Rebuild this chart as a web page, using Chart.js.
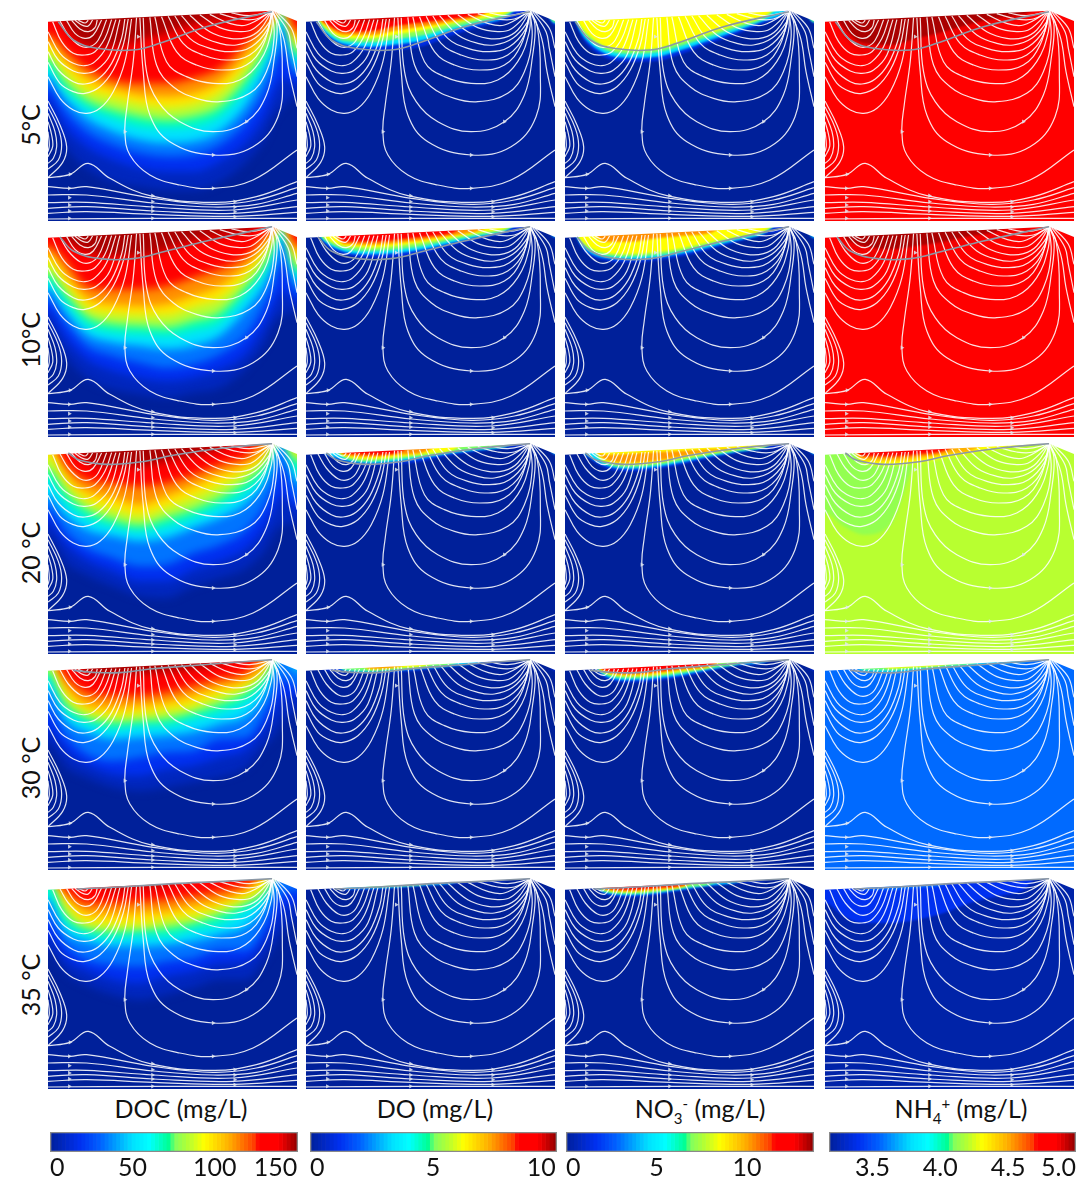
<!DOCTYPE html>
<html lang="en">
<head>
  <meta charset="UTF-8" />
  <title>Hyporheic zone concentrations</title>
  <script src="https://cdn.jsdelivr.net/npm/chart.js"></script>
  <style>
    body { margin: 0; background: #fff; font-family: Lato, "Noto Sans", sans-serif; color: #111; }
    #page { position: relative; width: 1091px; height: 1177px; overflow: hidden; }
    canvas { position: absolute; display: block; }
    .title { position: absolute; top: 1094px; font-size: 25px; line-height: 28px; transform: translateX(-50%); white-space: nowrap; }
    .title sub, .title sup { font-size: 15px; line-height: 0; }
    .row { position: absolute; left: 30px; font-size: 25px; line-height: 28px; transform: translate(-50%, -50%) rotate(-90deg); white-space: nowrap; }
  </style>
</head>
<body>
  <div id="page">
    <div class="row" style="top:125px">5°C</div>
    <div class="row" style="top:340px">10°C</div>
    <div class="row" style="top:553px">20 °C</div>
    <div class="row" style="top:768px">30 °C</div>
    <div class="row" style="top:985px">35 °C</div>
    <div class="title" style="left:181px">DOC (mg/L)</div>
    <div class="title" style="left:435px">DO (mg/L)</div>
    <div class="title" style="left:700px">NO<sub>3</sub><sup>-</sup> (mg/L)</div>
    <div class="title" style="left:961px">NH<sub>4</sub><sup>+</sup> (mg/L)</div>
  </div>

  <script>
    // all panel values are in the same domain units, x 24-772, y 17 (crest) - 648 (base)
    const crossX = [24, 80, 140, 220, 300, 380, 460, 540, 620, 680, 700, 730, 772];

    // colour bars
    const docTicks = [0, 50, 100, 150];
    const doTicks = [0, 5, 10];
    const no3Ticks = [0, 5, 10];
    const nh4Ticks = [3.5, 4.0, 4.5, 5.0];
    const barRanges = [[0, 150.5], [0, 10.05], [0, 13.7], [3.18, 5.0]];

    // levels as a fraction of the colour bar
    const docLevels = [.05, .12, .22, .33, .45, .55, .65, .75, .85, .98];
    const thinLevels = [.1, .33, .5, .62, .75, .85, .95];
    const no20Levels = [.1, .33, .5, .62, .74, .62];

    // contour depth per level, at crossX. 0 = above the ground surface
    const doc05 = [
      [330, 430, 490, 530, 545, 555, 555, 530, 470, 390, 340, 300, 270],
      [285, 370, 425, 465, 490, 500, 500, 470, 410, 320, 270, 220, 235],
      [250, 325, 380, 420, 445, 455, 450, 420, 350, 250, 200, 130, 210],
      [215, 285, 340, 380, 405, 415, 410, 380, 300, 190, 140, 60, 190],
      [190, 260, 305, 340, 365, 370, 365, 335, 250, 150, 100, 0, 160],
      [165, 235, 285, 315, 335, 345, 335, 305, 220, 120, 75, 0, 145],
      [140, 205, 255, 280, 300, 310, 300, 265, 185, 95, 55, 0, 120],
      [115, 170, 220, 250, 270, 275, 265, 230, 150, 70, 40, 0, 100],
      [90, 140, 190, 225, 235, 235, 220, 190, 115, 50, 28, 0, 75],
      [0, 70, 120, 125, 105, 85, 60, 42, 28]
    ];
    const doc10 = [
      [320, 410, 470, 505, 520, 530, 515, 500, 440, 360, 310, 280, 270],
      [275, 355, 415, 450, 470, 480, 470, 445, 395, 300, 260, 210, 240],
      [240, 310, 375, 405, 425, 440, 430, 400, 340, 240, 195, 120, 215],
      [205, 275, 340, 365, 375, 385, 375, 345, 265, 180, 125, 50, 185],
      [180, 245, 310, 335, 340, 345, 330, 305, 220, 140, 90, 0, 160],
      [160, 220, 285, 310, 315, 320, 300, 275, 195, 115, 65, 0, 145],
      [130, 195, 260, 280, 285, 285, 260, 235, 165, 90, 50, 0, 120],
      [100, 165, 230, 250, 255, 250, 225, 195, 135, 65, 35, 0, 95],
      [75, 125, 195, 205, 205, 195, 170, 145, 105, 40, 25, 0, 70],
      [0, 60, 90, 105, 105, 85, 60, 45, 30]
    ];
    const doc20 = [
      [295, 375, 410, 445, 475, 480, 445, 420, 390, 330, 290, 260, 255],
      [250, 320, 365, 400, 430, 430, 395, 370, 330, 260, 220, 170, 215],
      [215, 285, 330, 360, 385, 380, 345, 320, 275, 195, 150, 80, 185],
      [175, 235, 275, 295, 310, 300, 270, 240, 195, 120, 60, 0, 135],
      [125, 195, 240, 265, 280, 265, 240, 205, 160, 95, 40, 0, 105],
      [95, 165, 215, 245, 262, 240, 215, 180, 130, 70, 28, 0, 70],
      [60, 135, 190, 215, 235, 210, 180, 145, 100, 50, 0, 0, 50],
      [0, 110, 160, 180, 200, 175, 145, 110, 80, 35],
      [0, 80, 125, 135, 145, 135, 110, 80, 55],
      [0, 0, 70, 85, 85, 70, 50, 35]
    ];
    const doc30 = [
      [270, 340, 370, 400, 410, 400, 385, 370, 340, 270, 250, 200, 170],
      [225, 290, 330, 360, 365, 345, 335, 310, 285, 210, 180, 130, 125],
      [170, 250, 300, 320, 310, 295, 290, 255, 250, 170, 130, 70, 100],
      [105, 200, 235, 255, 250, 245, 235, 210, 185, 110, 45, 0, 50],
      [70, 170, 205, 225, 215, 215, 195, 175, 140, 80, 30],
      [55, 150, 190, 205, 200, 195, 175, 150, 115, 55],
      [0, 125, 170, 185, 180, 170, 155, 125, 95, 40],
      [0, 100, 150, 160, 155, 145, 125, 100, 75, 30],
      [0, 70, 115, 125, 125, 115, 95, 75, 55],
      [0, 0, 60, 65, 60, 55, 45, 30]
    ];
    const doc35 = [
      [231, 300, 335, 365, 380, 365, 345, 320, 320, 250, 220, 170, 140],
      [190, 260, 290, 320, 330, 310, 295, 270, 265, 190, 160, 110, 90],
      [140, 220, 260, 275, 280, 265, 255, 230, 230, 150, 100, 60, 50],
      [80, 180, 205, 220, 220, 215, 205, 185, 160, 90, 30],
      [60, 150, 180, 195, 185, 190, 170, 155, 110, 60],
      [0, 125, 165, 175, 170, 165, 150, 125, 90, 45],
      [0, 100, 150, 155, 155, 140, 130, 105, 75, 35],
      [0, 70, 120, 125, 120, 115, 100, 85, 50],
      [0, 55, 90, 90, 85, 80, 70, 55, 36],
      [0, 0, 0, 50, 40, 35]
    ];

    const do05 = [
      [0, 90, 128, 138, 135, 122, 92, 68, 45, 25, 0, 0, 60],
      [0, 80, 118, 125, 118, 105, 78, 58, 38, 0, 0, 0, 55],
      [0, 72, 108, 112, 102, 90, 68, 50, 32, 0, 0, 0, 52],
      [0, 65, 98, 100, 88, 75, 56, 42, 27],
      [0, 58, 90, 90, 76, 64, 50, 36],
      [0, 52, 80, 78, 62, 52, 42, 30],
      [0, 0, 58, 52, 45, 0]
    ];
    const do10 = [
      [0, 70, 100, 110, 108, 95, 75, 55, 38, 22, 0, 0, 50],
      [0, 62, 92, 100, 96, 84, 66, 48, 32, 0, 0, 0, 48],
      [0, 56, 84, 90, 85, 74, 58, 42, 28],
      [0, 50, 76, 80, 74, 64, 50, 36, 24],
      [0, 0, 70, 72, 66, 56, 44, 31],
      [0, 0, 62, 62, 56, 47, 37]
    ];
    const do20 = [
      [0, 48, 72, 82, 78, 68, 52, 40, 30, 22, 0, 0, 50],
      [0, 45, 66, 76, 70, 60, 46, 36, 27, 0, 0, 0, 48],
      [0, 0, 60, 70, 63, 54, 42, 32, 24],
      [0, 0, 55, 64, 57, 48, 38],
      [0, 0, 50, 56, 50, 42],
      [0, 0, 46, 50, 44]
    ];
    const do30 = [
      [0, 48, 54, 58, 54, 47, 38, 30, 23, 0, 0, 0, 50],
      [0, 0, 50, 54, 49, 43, 35, 27],
      [0, 0, 47, 50, 45, 39, 32],
      [0, 0, 0, 47, 42, 36],
      [0, 0, 0, 44, 39]
    ];
    const do35 = [
      [0, 0, 50, 50, 45, 39, 33, 28, 24, 0, 0, 0, 50],
      [0, 0, 47, 46, 42, 36, 31],
      [0, 0, 0, 43, 40, 34]
    ];

    const no05 = [
      [0, 105, 155, 170, 168, 145, 115, 87, 55, 28, 0, 0, 55],
      [0, 95, 143, 158, 155, 133, 105, 78, 48, 24, 0, 0, 52],
      [0, 85, 132, 146, 142, 120, 94, 68, 42, 0, 0, 0, 50],
      [0, 75, 122, 135, 130, 108, 84, 60, 36]
    ];
    const no10 = [
      [0, 88, 118, 124, 118, 105, 85, 63, 42, 24, 0, 0, 52],
      [0, 80, 110, 115, 110, 97, 78, 58, 38, 0, 0, 0, 50],
      [0, 73, 102, 107, 102, 89, 71, 52, 34],
      [0, 66, 95, 100, 94, 81, 64, 47, 30],
      [0, 0, 62, 62, 52, 44, 36]
    ];
    const no20 = [
      [0, 48, 88, 100, 93, 78, 60, 45, 32, 22, 0, 0, 50],
      [0, 45, 80, 92, 86, 72, 55, 41, 30, 0, 0, 0, 48],
      [0, 0, 74, 86, 80, 66, 50, 38, 27],
      [0, 0, 68, 80, 74, 60, 46, 34, 24],
      [0, 0, 62, 74, 68, 54, 41, 30],
      [0, 0, 50, 47, 42, 38, 34, 30, 25]
    ];
    const no30 = [
      [0, 0, 70, 85, 80, 68, 50, 35, 27, 0, 0, 0, 50],
      [0, 0, 63, 78, 73, 62, 46, 32, 25],
      [0, 0, 58, 72, 67, 56, 42, 30],
      [0, 0, 54, 67, 62, 51, 39],
      [0, 0, 50, 62, 57, 46, 36],
      [0, 0, 47, 57, 52, 42, 33]
    ];
    const no35 = [
      [0, 0, 62, 72, 65, 52, 40, 30, 24],
      [0, 0, 58, 66, 60, 48, 37, 28],
      [0, 0, 54, 62, 56, 44, 34],
      [0, 0, 50, 58, 52, 41],
      [0, 0, 47, 54, 48, 38],
      [0, 0, 45, 50, 44, 36]
    ];

    // NH4 has a non blue background level in most rows
    const nhBase = [.865, .865, .56, .21, .02];
    const nhLevels = [[.93, .98], [.93, .98], [.52, .62, .72, .85, .95], [.33, .5, .62], [.12, .22]];
    const nh05 = [
      [0, 100, 150, 150, 130, 105, 85, 60, 40],
      [0, 70, 115, 120, 100, 80, 58, 40, 28]
    ];
    const nh10 = [
      [0, 80, 110, 115, 100, 85, 65, 48, 32],
      [0, 50, 75, 85, 75, 62, 45, 32]
    ];
    const nh20 = [
      [225, 265, 290, 260, 60],
      [0, 0, 75, 82, 75, 60, 45, 32, 22],
      [0, 0, 65, 68, 62, 50, 40],
      [0, 0, 55, 56, 50, 40],
      [0, 0, 48]
    ];
    const nh30 = [
      [0, 0, 52, 54, 48, 41, 35, 28, 23],
      [0, 0, 47, 48, 42, 36, 31],
      [0, 0, 0, 44, 40, 34]
    ];
    const nh35 = [
      [90, 130, 150, 150, 140, 120, 90, 70, 50],
      [0, 0, 50, 50, 44, 36]
    ];

    const rowFields = [
      [doc05, do05, no05, nh05],
      [doc10, do10, no10, nh10],
      [doc20, do20, no20, nh20],
      [doc30, do30, no30, nh30],
      [doc35, do35, no35, nh35]
    ];

    // ground surface and water table (grey line, one per temperature)
    const surface = [[-30, 53], [24, 50], [697, 17], [772, 48], [830, 72]];
    const waterTable = [
      [[55, 50], [100, 105], [170, 130], [280, 135], [360, 115], [500, 65], [697, 20]],
      [[60, 48], [100, 90], [180, 113], [280, 113], [380, 90], [500, 60], [697, 17]],
      [[85, 45], [120, 67], [200, 79], [300, 72], [400, 52], [550, 30], [697, 17]],
      [[100, 49], [160, 55], [240, 56], [330, 45], [480, 33], [697, 17]],
      [[110, 48], [240, 42], [400, 32], [550, 25], [697, 17]]
    ];

    // streamlines, same flow field in all panels
    const leftCells = [
      [[24, 215], [60, 280], [100, 315], [140, 325], [180, 310], [220, 260], [255, 170], [275, 42]],
      [[24, 172], [60, 235], [100, 260], [135, 265], [180, 245], [220, 195], [250, 120], [265, 42]],
      [[24, 140], [55, 195], [100, 230], [135, 237], [175, 222], [215, 175], [245, 100], [255, 42]],
      [[24, 110], [55, 165], [100, 198], [135, 205], [170, 195], [210, 150], [240, 44]],
      [[24, 80], [60, 145], [100, 175], [135, 182], [165, 170], [200, 125], [228, 44]],
      [[38, 50], [65, 110], [100, 145], [135, 150], [165, 140], [195, 100], [215, 44]],
      [[60, 48], [85, 90], [120, 122], [150, 125], [175, 105], [200, 44]],
      [[80, 47], [105, 85], [135, 100], [160, 90], [185, 45]],
      [[95, 46], [120, 72], [145, 80], [165, 68], [172, 45]],
      [[105, 46], [130, 62], [145, 63], [158, 45]],
      [[115, 46], [135, 54], [145, 46]]
    ];
    const rightCells = [
      [[290, 38], [280, 170], [262, 300], [255, 380], [270, 450], [330, 510], [420, 540], [520, 550], [640, 525], [772, 435]],
      [[300, 38], [310, 200], [330, 330], [390, 410], [520, 450], [640, 425], [715, 335], [728, 200], [718, 60], [697, 18]],
      [[310, 38], [320, 200], [355, 290], [420, 350], [520, 380], [620, 350], [680, 270], [705, 150], [712, 60], [697, 18]],
      [[330, 37], [350, 180], [400, 245], [470, 280], [540, 290], [630, 265], [680, 200], [703, 100], [697, 18]],
      [[345, 36], [380, 170], [440, 215], [520, 235], [600, 225], [660, 170], [695, 80], [697, 18]],
      [[365, 35], [410, 140], [470, 180], [545, 195], [620, 180], [670, 120], [697, 18]],
      [[385, 34], [430, 115], [490, 150], [560, 165], [630, 150], [680, 90], [697, 18]],
      [[405, 33], [450, 100], [510, 130], [575, 140], [635, 125], [685, 70], [697, 18]],
      [[425, 32], [480, 90], [540, 115], [590, 120], [645, 100], [690, 50], [697, 18]],
      [[450, 31], [510, 80], [570, 100], [620, 98], [660, 75], [697, 18]],
      [[480, 29], [540, 68], [600, 80], [640, 72], [697, 18]],
      [[510, 28], [570, 55], [620, 60], [697, 18]],
      [[540, 26], [600, 42], [650, 42], [697, 18]],
      [[575, 24], [630, 32], [697, 18]]
    ];
    const rightEdge = [
      [[700, 18], [732, 100], [748, 200], [772, 305]],
      [[705, 20], [745, 80], [755, 130], [772, 215]],
      [[712, 22], [755, 70], [772, 130]]
    ];
    const leftLobes = [
      [[24, 288], [60, 360], [80, 425], [68, 472], [24, 518]],
      [[24, 305], [55, 370], [65, 420], [55, 465], [24, 492]],
      [[24, 325], [45, 380], [50, 425], [40, 460], [24, 475]],
      [[24, 350], [35, 390], [38, 425], [24, 455]],
      [[24, 380], [28, 420], [24, 440]]
    ];
    const bottomLines = [
      [[24, 518], [90, 508], [145, 475], [210, 520], [330, 572], [520, 592], [650, 575], [772, 530]],
      [[24, 545], [90, 550], [140, 545], [340, 580], [520, 598], [650, 585], [772, 548]],
      [[24, 570], [140, 570], [340, 594], [520, 606], [650, 598], [772, 565]],
      [[24, 593], [140, 592], [340, 606], [580, 615], [772, 585]],
      [[24, 610], [140, 605], [340, 618], [580, 625], [772, 605]],
      [[24, 625], [140, 620], [340, 628], [580, 634], [772, 622]],
      [[24, 642], [340, 640], [772, 640]]
    ];
    const streamLines = [...leftCells, ...rightCells, ...rightEdge, ...leftLobes, ...bottomLines];

    const arrowPoints = [[90, 508], [88, 550], [88, 578], [88, 600], [88, 618], [88, 640],
      [338, 572], [338, 590], [338, 606], [338, 618], [338, 640],
      [585, 590], [585, 606], [585, 620], [585, 635],
      [255, 380], [520, 450], [520, 550], [620, 350], [295, 95]];

    // layout
    const colLeft = [48, 306, 565, 825];
    const rowTop = [10, 226, 443, 659, 878];
    const panelW = 249, panelH = 211;
    const barLeft = [50, 310, 566, 829], barW = [248, 247, 248, 247];

    // colour bar map, position and colour
    const mapPos = [0, .12, .2, .33, .4, .48, .5, .56, .62, .72, .82, .84, .92, 1];
    const mapCol = [[0, 32, 154], [0, 48, 240], [0, 96, 255], [0, 224, 255], [0, 255, 255], [0, 255, 144], [128, 255, 96],
      [184, 255, 48], [255, 255, 0], [255, 176, 0], [255, 64, 0], [255, 0, 0], [255, 0, 0], [140, 0, 0]];

    function shade(t) {
      let i = 0;
      while (i < mapPos.length - 2 && t > mapPos[i + 1]) i++;
      const f = Math.min(1, Math.max(0, (t - mapPos[i]) / (mapPos[i + 1] - mapPos[i])));
      const c = mapCol[i].map((v, k) => Math.round(v + (mapCol[i + 1][k] - v) * f));
      return `rgb(${c[0]},${c[1]},${c[2]})`;
    }

    const toXY = pts => pts.map(p => ({ x: p[0], y: p[1] }));
    const page = document.getElementById('page');

    function addCanvas(left, top, w, h) {
      const c = document.createElement('canvas');
      c.width = w; c.height = h;
      c.style.left = left + 'px'; c.style.top = top + 'px';
      c.style.width = w + 'px'; c.style.height = h + 'px';
      page.appendChild(c);
      return c;
    }

    // one filled band: contour at crossX, painted up to the top of the panel
    function bandDataset(depths, t) {
      const ys = crossX.map((x, i) => depths[i] ?? 0);
      const pts = [{ x: -30, y: ys[0] }, ...crossX.map((x, i) => ({ x, y: ys[i] })), { x: 830, y: ys[ys.length - 1] }];
      return { data: pts, fill: { target: { value: -60 } }, backgroundColor: shade(t), borderWidth: 0, pointRadius: 0,
        cubicInterpolationMode: 'monotone' };
    }

    function drawPanel(r, c) {
      const field = rowFields[r][c];
      const levels = c === 0 ? docLevels : c === 3 ? nhLevels[r] : (c === 2 && r === 2) ? no20Levels : thinLevels;
      const base = c === 3 ? nhBase[r] : 0;
      const datasets = [];
      datasets.push({ data: toXY(waterTable[r]), borderColor: '#8b98a6', borderWidth: 1.6, tension: .4, pointRadius: 0, fill: false });
      datasets.push({ data: toXY(arrowPoints), showLine: false, pointStyle: 'triangle', pointRotation: 90, pointRadius: 2.5,
        pointBorderWidth: 0, pointBackgroundColor: 'rgba(225,230,240,.85)' });
      streamLines.forEach(s => datasets.push({ data: toXY(s), borderColor: 'rgba(255,255,255,.88)', borderWidth: 1.2, tension: .4, pointRadius: 0, fill: false }));
      datasets.push({ data: toXY(surface), fill: { target: { value: -60 } }, backgroundColor: '#fff', borderWidth: 0, pointRadius: 0 });
      const firstBand = datasets.length;
      // shallow (hot) contours first, the chart paints the list from the end
      for (let i = field.length - 1; i >= 0; i--) datasets.push(bandDataset(field[i], levels[i]));
      datasets.push(bandDataset(crossX.map(() => 720), base));

      const blurPx = c === 0 ? 4 : r === 2 && c === 3 ? 1.5 : 1;
      new Chart(addCanvas(colLeft[c], rowTop[r], panelW, panelH), {
        type: 'line',
        data: { datasets },
        options: {
          responsive: false,
          animation: false,
          events: [],
          layout: { padding: 0, autoPadding: false },
          plugins: { legend: { display: false }, tooltip: { enabled: false } },
          scales: {
            x: { type: 'linear', display: false, min: 24, max: 772 },
            y: { type: 'linear', display: false, min: 15, max: 648, reverse: true }
          }
        },
        plugins: [{
          id: 'softBands',
          beforeDatasetsDraw(chart) { chart.ctx.filter = `blur(${blurPx}px)`; },
          afterDatasetDraw(chart, args) { if (args.index === firstBand) chart.ctx.filter = 'none'; }
        }]
      });
    }

    function drawBar(c) {
      const [lo, hi] = barRanges[c];
      const ticks = [docTicks, doTicks, no3Ticks, nh4Ticks][c];
      // empty end ticks keep the inner aligned labels where the figure has them
      const tickVals = [...ticks];
      if (ticks[0] > lo) tickVals.unshift(lo);
      if (c === 2) tickVals.push(hi);
      const steps = 64;
      const datasets = [{ data: [[lo, hi]], backgroundColor: 'rgba(0,0,0,0)', borderColor: '#8a8a8a', borderWidth: 1, borderSkipped: false }];
      for (let i = 0; i < steps; i++) {
        const a = lo + (hi - lo) * i / steps, b = lo + (hi - lo) * (i + 1) / steps;
        datasets.push({ data: [[a, b]], backgroundColor: shade((i + .5) / steps), borderWidth: 0 });
      }
      new Chart(addCanvas(barLeft[c], 1132, barW[c], 45), {
        type: 'bar',
        data: { labels: [''], datasets },
        options: {
          indexAxis: 'y',
          responsive: false,
          animation: false,
          events: [],
          layout: { padding: 0, autoPadding: false },
          plugins: { legend: { display: false }, tooltip: { enabled: false } },
          datasets: { bar: { grouped: false, barPercentage: 1, categoryPercentage: 1 } },
          scales: {
            y: { display: false },
            x: {
              type: 'linear', min: lo, max: hi,
              afterBuildTicks(scale) { scale.ticks = tickVals.map(value => ({ value })); },
              afterFit(scale) { scale.height = 25; scale.paddingLeft = 0; scale.paddingRight = 0; },
              grid: { display: false, drawTicks: false },
              border: { display: false },
              ticks: {
                align: 'inner', autoSkip: false, maxRotation: 0, padding: 1, color: '#111',
                font: { family: 'Lato', size: 25 },
                callback(v) { return ticks.includes(v) ? (c === 3 ? v.toFixed(1) : String(v)) : ''; }
              }
            }
          }
        }
      });
    }

    for (let r = 0; r < rowTop.length; r++) {
      for (let c = 0; c < colLeft.length; c++) drawPanel(r, c);
    }
    for (let c = 0; c < barLeft.length; c++) drawBar(c);
  </script>
</body>
</html>
